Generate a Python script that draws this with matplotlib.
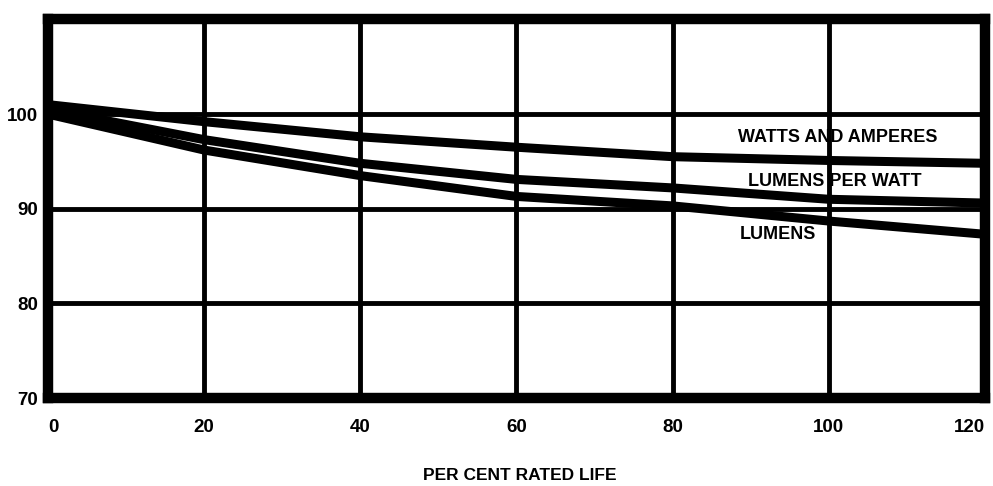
import matplotlib
matplotlib.use('Agg')
import matplotlib.pyplot as plt

# values (per cent of initial value)
life = [0, 20, 40, 60, 80, 100, 120]
watts_amperes = [101.0, 99.2, 97.6, 96.5, 95.5, 95.1, 94.8]
lumens_per_watt = [100.5, 97.3, 94.8, 93.1, 92.2, 91.0, 90.6]
lumens = [100.0, 96.2, 93.5, 91.3, 90.3, 88.7, 87.3]

x_ticks = [0, 20, 40, 60, 80, 100, 120]
x_tick_labels = ['0', '20', '40', '60', '80', '100', '120']
y_ticks = [70, 80, 90, 100]
y_tick_labels = ['70', '80', '90', '100']

tick_font = ['Liberation Sans Narrow', 'Liberation Sans', 'DejaVu Sans']
label_font = ['Liberation Sans', 'DejaVu Sans']

fig = plt.figure(figsize=(9.93, 4.86), dpi=100)
ax = fig.add_axes([0.0483, 0.181, 0.9436, 0.779])

# grid first, curves on top
ax.set_xticks(x_ticks)
ax.set_xticklabels(x_tick_labels)
ax.set_yticks(y_ticks)
ax.set_yticklabels(y_tick_labels)
ax.grid(True, color='black', lw=3.5)
ax.set_axisbelow(True)

for series in [watts_amperes, lumens_per_watt, lumens]:
    ax.plot(life, series, color='black', lw=6.5, solid_capstyle='butt',
            solid_joinstyle='round', zorder=3)

ax.set_xlim(0, 120)
ax.set_ylim(70, 110)

for side in ['left', 'right', 'top', 'bottom']:
    ax.spines[side].set_linewidth(7.5)
    ax.spines[side].set_color('black')
    ax.spines[side].set_zorder(5)

ax.tick_params(axis='both', length=0)
ax.tick_params(axis='y', pad=7)
ax.tick_params(axis='x', pad=15)
for lab in ax.get_xticklabels() + ax.get_yticklabels():
    lab.set_family(tick_font)
    lab.set_fontweight('bold')
    lab.set_fontsize(13.5)
# last label sits against the right edge of the figure
ax.get_xticklabels()[-1].set_horizontalalignment('right')
ax.get_xticklabels()[0].set_horizontalalignment('left')

# curve names
ax.text(88.4, 97.5, 'WATTS AND AMPERES', ha='left', va='center',
        fontsize=13, fontweight='bold', family=label_font)
ax.text(89.7, 92.9, 'LUMENS PER WATT', ha='left', va='center',
        fontsize=13, fontweight='bold', family=label_font)
ax.text(88.6, 87.3, 'LUMENS', ha='left', va='center',
        fontsize=13, fontweight='bold', family=label_font)

fig.text(520 / 993, 1 - 475 / 486, 'PER CENT RATED LIFE', ha='center', va='center',
         fontsize=12.5, fontweight='bold', family=label_font)

plt.savefig('out.png', dpi=100)
